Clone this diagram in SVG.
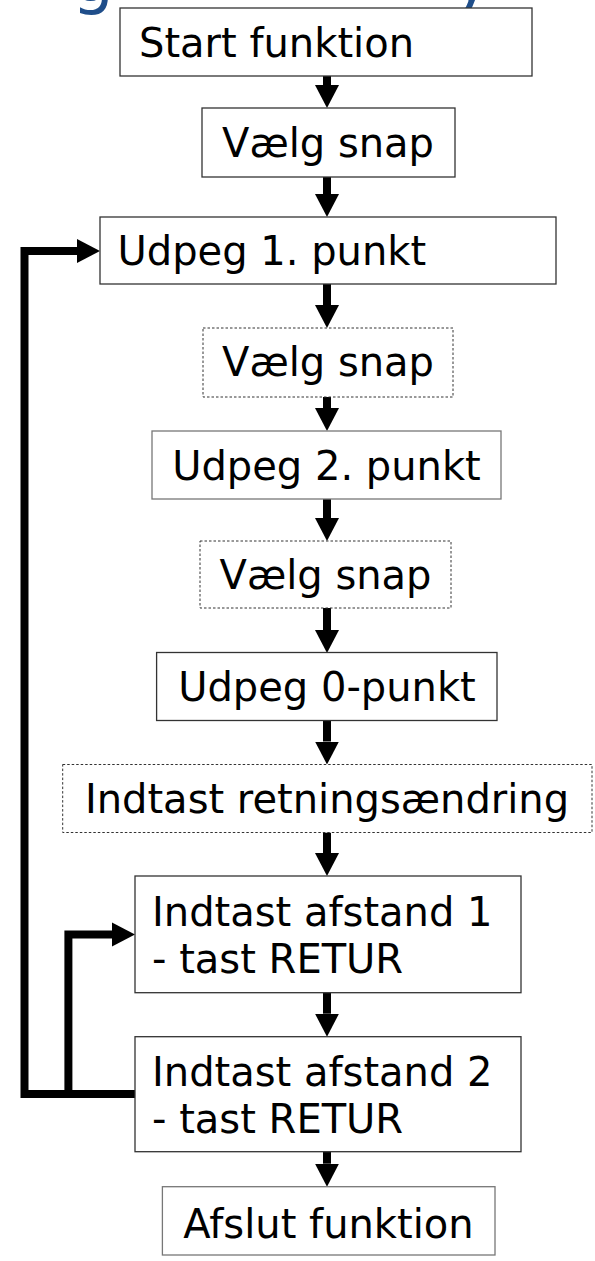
<svg xmlns="http://www.w3.org/2000/svg" width="595" height="1261" viewBox="0 0 595 1261">
<defs>
<style>
.box{fill:#fff;stroke:#333;stroke-width:1.3}
.boxg{fill:#fff;stroke:#777;stroke-width:1.3}
.dot{fill:#fff;stroke:#333;stroke-width:1;stroke-dasharray:2.5 2}
.t{font-family:"DejaVu Sans","Liberation Sans",sans-serif;font-size:40px;fill:#000}
.m{text-anchor:middle}
.title{font-family:"DejaVu Sans","Liberation Sans",sans-serif;font-size:66px;fill:#1F4E8A}
.c{fill:none;stroke:#000;stroke-width:8;stroke-linejoin:miter;stroke-linecap:butt;marker-end:url(#ah)}
</style>
<marker id="ah" markerUnits="userSpaceOnUse" viewBox="0 -13 24 26" refX="0" refY="0" markerWidth="24" markerHeight="26" orient="auto">
<path d="M0,-12 L23,0 L0,12 z" fill="#000"/>
</marker>
</defs>
<g id="title">
<text class="title" x="72" y="1">g</text>
<text class="title" x="452" y="1">y</text>
</g>
<g id="connectors">
<path class="c" d="M327,76 V85"/>
<path class="c" d="M327,177 V194"/>
<path class="c" d="M327,284 V305"/>
<path class="c" d="M327,397 V408"/>
<path class="c" d="M327,499 V518"/>
<path class="c" d="M327,608 V630"/>
<path class="c" d="M327,720.5 V741.5"/>
<path class="c" d="M327,832.5 V853"/>
<path class="c" d="M327,992.7 V1013.7"/>
<path class="c" d="M327,1151.7 V1163.7"/>
<path class="c" d="M135,1094 H24.5 V251 H77"/>
<path class="c" d="M68.4,1094 V934.5 H112"/>
</g>
<g id="n1"><rect class="box" x="120" y="8" width="412" height="68"/><text class="t" x="139" y="57">Start funktion</text></g>
<g id="n2"><rect class="box" x="202" y="108" width="253" height="69"/><text class="t m" x="328" y="157">Vælg snap</text></g>
<g id="n3"><rect class="box" x="100" y="217" width="456" height="67"/><text class="t" x="117.5" y="265">Udpeg 1. punkt</text></g>
<g id="n4"><rect class="dot" x="203" y="328" width="250" height="69"/><text class="t m" x="328" y="376">Vælg snap</text></g>
<g id="n5"><rect class="boxg" x="152" y="431" width="349" height="68"/><text class="t m" x="326.5" y="480">Udpeg 2. punkt</text></g>
<g id="n6"><rect class="dot" x="200" y="541" width="251" height="67"/><text class="t m" x="325.5" y="589">Vælg snap</text></g>
<g id="n7"><rect class="box" x="156.6" y="652.5" width="340.4" height="68"/><text class="t m" x="327" y="701">Udpeg 0-punkt</text></g>
<g id="n8"><rect class="dot" x="62.7" y="764.5" width="529.3" height="68"/><text class="t m" x="327" y="813">Indtast retningsændring</text></g>
<g id="n9"><rect class="box" x="135" y="876" width="386" height="116.7"/><text class="t" x="152" y="926">Indtast afstand 1</text><text class="t" x="152" y="973">- tast RETUR</text></g>
<g id="n10"><rect class="box" x="135" y="1036.7" width="386" height="115"/><text class="t" x="152" y="1086">Indtast afstand 2</text><text class="t" x="152" y="1133">- tast RETUR</text></g>
<g id="n11"><rect class="boxg" x="162.4" y="1186.7" width="332.6" height="68.3"/><text class="t m" x="328.5" y="1238">Afslut funktion</text></g>
</svg>
